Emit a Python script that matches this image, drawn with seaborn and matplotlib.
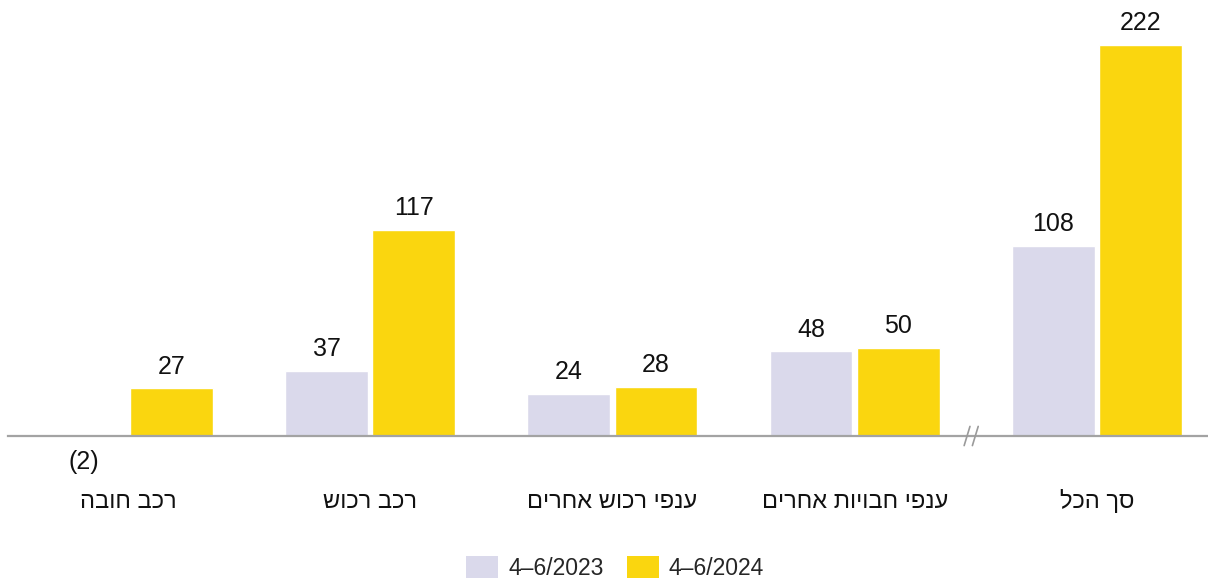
import matplotlib
matplotlib.use("Agg")
import matplotlib.pyplot as plt
import matplotlib.transforms as mtransforms
from matplotlib.patches import Patch
import seaborn as sns
import pandas as pd

# Categories in logical (right-to-left) Hebrew order as typed
categories = ["רכב חובה", "רכב רכוש", "ענפי רכוש אחרים", "ענפי חבויות אחרים", "סך הכל"]
periods = ["4-6/2023", "4-6/2024"]
values_2023 = [-2, 37, 24, 48, 108]
values_2024 = [27, 117, 28, 50, 222]

colors = {"4-6/2023": "#DAD9EB", "4-6/2024": "#FAD60F"}


def rtl(text):
    """Hebrew strings are drawn glyph by glyph left-to-right, so flip them."""
    return text[::-1]


def value_text(v):
    return f"({abs(v)})" if v < 0 else f"{v}"


sns.set_theme(style="white")
plt.rcParams["font.family"] = ["Liberation Sans", "DejaVu Sans"]

df = pd.DataFrame({
    "category": categories * 2,
    "period": [periods[0]] * len(categories) + [periods[1]] * len(categories),
    "value": values_2023 + values_2024,
})

fig = plt.figure(figsize=(12.08, 5.81), dpi=100)
ax = fig.add_axes([8 / 1208, 145 / 581, 1200 / 1208, 436 / 581])

sns.barplot(data=df, x="category", y="value", hue="period",
            order=categories, hue_order=periods, palette=colors,
            saturation=1, width=0.72, gap=0.05, dodge=True, ax=ax,
            legend=False, errorbar=None)

ax.set_xlim(-0.495, 4.4586)
ax.set_ylim(0, 247.6)

for s in ["top", "left", "right"]:
    ax.spines[s].set_visible(False)
ax.spines["bottom"].set_color("#A3A3A3")
ax.spines["bottom"].set_linewidth(1.6)
ax.spines["bottom"].set_zorder(5)

ax.set_yticks([])
ax.set_xlabel("")
ax.set_ylabel("")
ax.set_xticks(range(len(categories)))
ax.set_xticklabels([])
ax.tick_params(axis="x", length=0)

# Category names, baseline-aligned below the axis
name_trans = mtransforms.blended_transform_factory(ax.transData, ax.transAxes)
for i, c in enumerate(categories):
    ax.text(i, -72 / 436, rtl(c), transform=name_trans, ha="center", va="baseline",
            fontsize=17, color="#111111", clip_on=False)

# Value labels above (or below, for negatives) each bar
all_values = values_2023 + values_2024
for patch, v in zip(ax.patches, all_values):
    xc = patch.get_x() + patch.get_width() / 2
    if v >= 0:
        ax.annotate(value_text(v), (xc, v), xytext=(0, 7), textcoords="offset points",
                    ha="center", va="bottom", fontsize=18, color="#111111",
                    annotation_clip=False)
    else:
        ax.annotate(value_text(v), (xc, 0), xytext=(0, -10), textcoords="offset points",
                    ha="center", va="top", fontsize=18, color="#111111",
                    annotation_clip=False)

# Axis break mark between the branches and the total
for dx in (-0.014, 0.02):
    ax.plot([3.478 + dx - 0.012, 3.478 + dx + 0.012], [-0.022, 0.022],
            transform=name_trans, color="#9A9A9A", lw=1.2, clip_on=False, zorder=6)

handles = [Patch(facecolor=colors[p], edgecolor="none") for p in periods]
labels = [p.replace("-", "\u2013") for p in periods]
fig.legend(handles, labels, loc="center", bbox_to_anchor=(615 / 1208, 1 - 568 / 581),
           ncol=2, frameon=False, fontsize=16.5, handlelength=1.4, handleheight=1.05,
           handletextpad=0.45, columnspacing=1.0)

fig.savefig("out.png", dpi=100)
